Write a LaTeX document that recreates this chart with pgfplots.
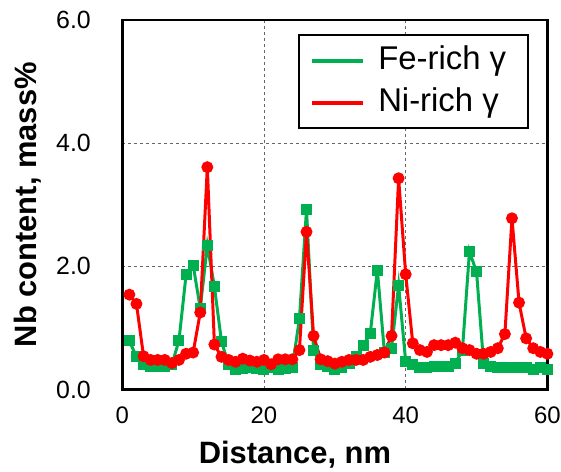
\documentclass[border=0pt]{standalone}
\usepackage{pgfplots}
\pgfplotsset{compat=1.18}
\usepackage{pgfplotstable}
\usepackage{fontspec}
\setmainfont{Liberation Sans}
\definecolor{exgreen}{RGB}{0,176,80}
\definecolor{exred}{RGB}{255,0,0}
\pgfplotstableread{
x y
1 0.79
2 0.53
3 0.40
4 0.37
5 0.37
6 0.37
7 0.40
8 0.80
9 1.86
10 2.02
11 1.32
12 2.34
13 1.67
14 0.78
15 0.40
16 0.33
17 0.34
18 0.36
19 0.34
20 0.32
21 0.36
22 0.33
23 0.34
24 0.36
25 1.15
26 2.92
27 0.64
28 0.40
29 0.37
30 0.33
31 0.36
32 0.42
33 0.54
34 0.71
35 0.91
36 1.94
37 0.60
38 0.67
39 1.69
40 0.45
41 0.40
42 0.36
43 0.36
44 0.38
45 0.38
46 0.37
47 0.43
48 0.63
49 2.24
50 1.91
51 0.42
52 0.37
53 0.36
54 0.36
55 0.36
56 0.36
57 0.35
58 0.33
59 0.36
60 0.33
}\fedata
\pgfplotstableread{
x y
1 1.54
2 1.39
3 0.54
4 0.48
5 0.48
6 0.48
7 0.43
8 0.48
9 0.58
10 0.60
11 1.25
12 3.61
13 0.73
14 0.53
15 0.48
16 0.45
17 0.50
18 0.47
19 0.45
20 0.48
21 0.41
22 0.49
23 0.49
24 0.49
25 0.64
26 2.56
27 0.87
28 0.49
29 0.46
30 0.42
31 0.45
32 0.48
33 0.48
34 0.48
35 0.53
36 0.56
37 0.60
38 0.87
39 3.43
40 1.87
41 0.75
42 0.64
43 0.61
44 0.72
45 0.72
46 0.72
47 0.76
48 0.67
49 0.64
50 0.58
51 0.58
52 0.61
53 0.67
54 0.90
55 2.78
56 1.41
57 0.83
58 0.67
59 0.61
60 0.58
}\nidata
\begin{document}
\begin{tikzpicture}
\begin{axis}[
  scale only axis,
  width=425.1bp, height=369.5bp,
  xmin=0, xmax=60, ymin=0, ymax=6,
  xtick={0,20,40,60}, ytick={0,2,4,6},
  yticklabel style={/pgf/number format/fixed, /pgf/number format/fixed zerofill, /pgf/number format/precision=1, xshift=-28bp, font=\fontsize{25}{29}\selectfont},
  xticklabel style={yshift=-14bp},
  /pgf/number format/assume math mode=true,
  tick label style={font=\fontsize{24}{28}\selectfont},
  major tick length=0pt,
  axis line style={line width=2.5bp},
  grid=major,
  major grid style={dashed, gray!80!black, line width=0.8bp, dash pattern=on 3bp off 3bp},
  xlabel={\textbf{Distance, nm}},
  ylabel={\textbf{Nb content, mass\%}},
  xlabel style={at={(axis description cs:0.406,-0.199)}, anchor=base, font=\fontsize{31}{36}\selectfont},
  ylabel style={at={(axis description cs:-0.223,0.5)}, anchor=center, rotate=0, font=\fontsize{31}{36}\selectfont},
  legend cell align=left,
  legend style={at={(rel axis cs:0.957,0.962)}, anchor=north east, draw=black, line width=2bp,
    nodes={font=\fontsize{33}{38}\selectfont, inner sep=3bp, text height=23bp, text depth=6bp},
    inner xsep=11bp, inner ysep=8bp, row sep=7bp, column sep=10bp},
  legend image code/.code={\draw[line width=4bp] (0bp,0bp) -- (51bp,0bp);},
  clip=false,
]
\coordinate (bl) at (rel axis cs:0,0);
\coordinate (tr) at (rel axis cs:1,1);
\addplot[color=exgreen, line width=3bp, mark=square*, mark size=4bp, mark options={solid}] table[x=x,y=y]{\fedata};
\addlegendentry{Fe-rich γ\kern8bp}
\addplot[color=exred, line width=3bp, mark=*, mark size=4.4bp, mark options={solid}] table[x=x,y=y]{\nidata};
\addlegendentry{Ni-rich γ\kern8bp}
\end{axis}
\pgfresetboundingbox
\path[use as bounding box] ([xshift=-122.3bp,yshift=-82.5bp]bl) rectangle ([xshift=13.6bp,yshift=20bp]tr);
\end{tikzpicture}
\end{document}
